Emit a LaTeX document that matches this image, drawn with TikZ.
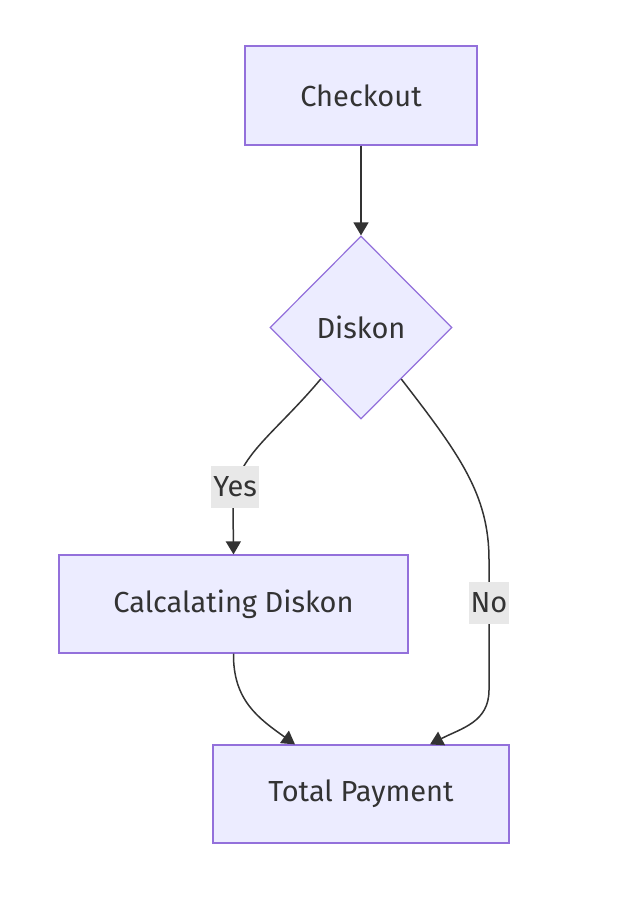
\documentclass[tikz,border=0pt]{standalone}
\usepackage{fontspec}
\setmainfont{Fira Sans}
\usepackage{tikz}
\usetikzlibrary{calc,positioning,shapes,arrows.meta}
\definecolor{boxfill}{HTML}{ECECFF}
\definecolor{boxline}{HTML}{9370DB}
\definecolor{ink}{HTML}{333333}
\definecolor{lblfill}{HTML}{E8E8E8}
\begin{document}
\begin{tikzpicture}[x=0.5pt, y=-0.5pt]
\tikzstyle{box}=[rectangle, draw=boxline, fill=boxfill, line width=0.6pt,
                 text=ink, font=\fontsize{14.5}{17}\selectfont, inner sep=0pt]
\tikzstyle{dec}=[diamond, draw=boxline, fill=boxfill, line width=0.6pt,
                 text=ink, font=\fontsize{14.5}{17}\selectfont, inner sep=0pt,
                 minimum width=91pt, minimum height=91.5pt]
\tikzstyle{lbl}=[fill=lblfill, text=ink, font=\fontsize{14.5}{17}\selectfont,
                 inner sep=1pt, minimum height=21pt]
\tikzstyle{edge}=[draw=ink, line width=0.75pt, -{Triangle[length=6.5pt,width=7.5pt]}]
\useasboundingbox (0,0) rectangle (628,899);
\node[box, minimum width=116pt, minimum height=49.5pt] (chk) at (361,95.5) {Checkout};
\node[dec] (dsk) at (361,327.5) {Diskon};
\node[box, minimum width=174.5pt, minimum height=49pt] (calc) at (233.5,604) {Calcalating Diskon};
\node[box, minimum width=148pt, minimum height=49pt] (tot) at (361,794) {Total Payment};
\draw[edge] (chk) -- (dsk);
\draw[edge] (dsk.-128) .. controls (272,437) and (233,458) .. (233,505)
    node[lbl, pos=0.86] {Yes} -- (calc.north);
\draw[edge] (dsk.-52) .. controls (460,455) and (489,495) .. (489,560)
    -- (489,690) node[lbl, pos=0.33] {No}
    .. controls (489,722) and (462,728) .. ([xshift=34.5pt]tot.north);
\draw[edge] (calc.south) .. controls (233,700) and (258,718) .. ([xshift=-33pt]tot.north);
\end{tikzpicture}
\end{document}
